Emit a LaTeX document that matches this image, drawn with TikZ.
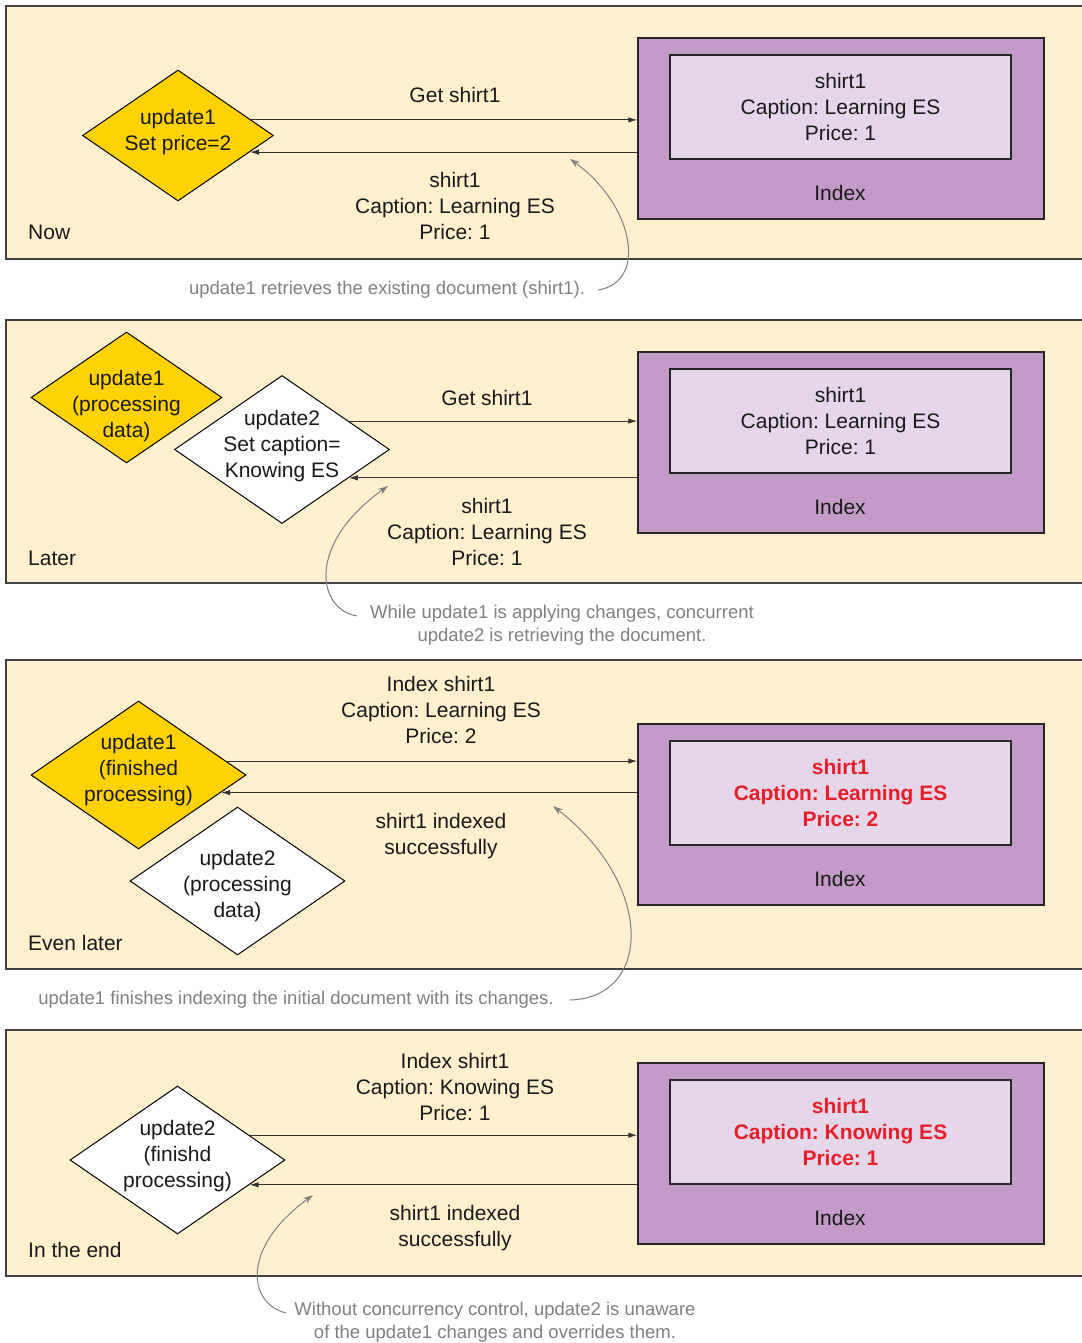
\documentclass[tikz,border=0pt]{standalone}
\usepackage{fontspec}
\setmainfont{Liberation Sans}
\frenchspacing
\usetikzlibrary{shapes.geometric,arrows.meta,calc}
\definecolor{cream}{RGB}{255,240,206}
\definecolor{panelline}{RGB}{64,64,64}
\definecolor{purpleO}{RGB}{196,155,200}
\definecolor{purpleI}{RGB}{229,215,233}
\definecolor{gold}{RGB}{255,210,0}
\definecolor{redtxt}{RGB}{230,30,40}
\definecolor{notegray}{RGB}{128,128,128}
\begin{document}
\begin{tikzpicture}[x=1pt,y=-1pt,
 panel/.style={draw=panelline,fill=cream,line width=1.6pt},
 outerbox/.style={draw=black!85,fill=purpleO,line width=1.3pt,minimum width=406pt,minimum height=181pt,inner sep=0pt},
 innerbox/.style={draw=black!85,fill=purpleI,line width=1.3pt,minimum width=341pt,minimum height=104pt},
 dia/.style={shape=diamond,draw=black,line width=1pt,inner sep=0pt},
 ydia/.style={dia,fill=gold},
 wdia/.style={dia,fill=white},
 smalld/.style={minimum width=191pt,minimum height=131pt},
 bigd/.style={minimum width=215pt,minimum height=148pt},
 txt/.style={font=\fontsize{21}{26}\selectfont,align=center,inner sep=0pt,text=black!90},
 redt/.style={txt,font=\fontsize{21}{26}\selectfont\bfseries,text=redtxt},
 note/.style={font=\fontsize{18.5}{23.5}\selectfont,align=center,inner sep=0pt,text=notegray},
 conn/.style={draw=black!80,line width=1.1pt,-{Latex[length=9pt,width=5.5pt]}},
 pointer/.style={draw=notegray,line width=1pt,-{Stealth[length=10pt,width=6.5pt]}},
]
\useasboundingbox (0,0) rectangle (1081,1343);
\fill[white] (0,0) rectangle (1081,1343);

% ===== Panel 1 =====
\draw[panel] (6,6) rectangle (1100,259);
\node[outerbox] (ob1) at (841,128.5) {};
\node[innerbox,txt] (ib1) at (840.5,107) {shirt1\\Caption: Learning ES\\Price: 1};
\node[txt] (ix1) at (840,193) {Index};
\node[ydia,smalld,label={[txt,yshift=3pt]center:update1\\Set price=2}] (d1) at (178,135.5) {};
\draw[conn] (d1.12.5) -- (d1.12.5 -| ob1.west);
\draw[conn] (d1.-13.5 -| ob1.west) -- (d1.-13.5);
\node[txt] (l1a) at (455,95) {Get shirt1};
\node[txt] (l1b) at (455,206) {shirt1\\Caption: Learning ES\\Price: 1};
\node[txt,anchor=west] (t1) at (28,232) {Now};
\node[note] (n1) at (387,290) {update1 retrieves the existing document (shirt1).};
\coordinate (p1) at (570,159);
\draw[pointer] ([xshift=13pt]n1.east) .. controls (648,282) and (634,205) .. (p1);

% ===== Panel 2 =====
\draw[panel] (6,320) rectangle (1100,583);
\node[outerbox] (ob2) at (841,442.5) {};
\node[innerbox,txt] (ib2) at (840.5,421) {shirt1\\Caption: Learning ES\\Price: 1};
\node[txt] (ix2) at (840,507) {Index};
\node[ydia,smalld,label={[txt,yshift=-9pt]center:update1\\(processing\\data)}] (d2a) at (126.5,397.5) {};
\node[wdia,bigd,label={[txt,yshift=3pt]center:update2\\Set caption=\\Knowing ES}] (d2b) at (282,449.5) {};
\draw[conn] (d2b.23.5) -- (d2b.23.5 -| ob2.west);
\draw[conn] (d2b.-23.5 -| ob2.west) -- (d2b.-23.5);
\node[txt] (l2a) at (487,398) {Get shirt1};
\node[txt] (l2b) at (487,532) {shirt1\\Caption: Learning ES\\Price: 1};
\node[txt,anchor=west] (t2) at (28,558) {Later};
\node[note] (n2) at (562,625) {While update1 is applying changes, concurrent\\update2 is retrieving the document.};
\coordinate (p2) at (388,486);
\draw[pointer] ($(n2.north west)+(-13,11.5)$) .. controls (318,610) and (305,545) .. (p2);

% ===== Panel 3 =====
\draw[panel] (6,660) rectangle (1100,969);
\node[outerbox] (ob3) at (841,814.5) {};
\node[innerbox,redt] (ib3) at (840.5,793) {shirt1\\Caption: Learning ES\\Price: 2};
\node[txt] (ix3) at (840,879) {Index};
\node[ydia,bigd,label={[txt,yshift=4.5pt]center:update1\\(finished\\processing)}] (d3a) at (138.5,775) {};
\node[wdia,bigd,label={[txt,yshift=-5pt]center:update2\\(processing\\data)}] (d3b) at (237.5,881) {};
\draw[conn] (d3a.9.9) -- (d3a.9.9 -| ob3.west);
\draw[conn] (d3a.-12.5 -| ob3.west) -- (d3a.-12.5);
\node[txt] (l3a) at (441,710) {Index shirt1\\Caption: Learning ES\\Price: 2};
\node[txt] (l3b) at (441,836) {shirt1 indexed\\successfully};
\node[txt,anchor=west] (t3) at (28,943) {Even later};
\node[note] (n3) at (296,1000) {update1 finishes indexing the initial document with its changes.};
\coordinate (p3) at (553,806);
\draw[pointer] ([xshift=16pt]n3.east) .. controls (652,998) and (655,885) .. (p3);

% ===== Panel 4 =====
\draw[panel] (6,1030) rectangle (1100,1276);
\node[outerbox] (ob4) at (841,1153.5) {};
\node[innerbox,redt] (ib4) at (840.5,1132) {shirt1\\Caption: Knowing ES\\Price: 1};
\node[txt] (ix4) at (840,1218) {Index};
\node[wdia,bigd,label={[txt,yshift=3.5pt]center:update2\\(finishd\\processing)}] (d4) at (177.5,1160) {};
\draw[conn] (d4.19.3) -- (d4.19.3 -| ob4.west);
\draw[conn] (d4.-19.3 -| ob4.west) -- (d4.-19.3);
\node[txt] (l4a) at (455,1087) {Index shirt1\\Caption: Knowing ES\\Price: 1};
\node[txt] (l4b) at (455,1228) {shirt1 indexed\\successfully};
\node[txt,anchor=west] (t4) at (28,1250) {In the end};
\node[note] (n4) at (495,1322) {Without concurrency control, update2 is unaware\\of the update1 changes and overrides them.};
\coordinate (p4) at (313,1195);
\draw[pointer] ($(n4.north west)+(-8,11.5)$) .. controls (250,1305) and (238,1250) .. (p4);
\end{tikzpicture}
\end{document}
